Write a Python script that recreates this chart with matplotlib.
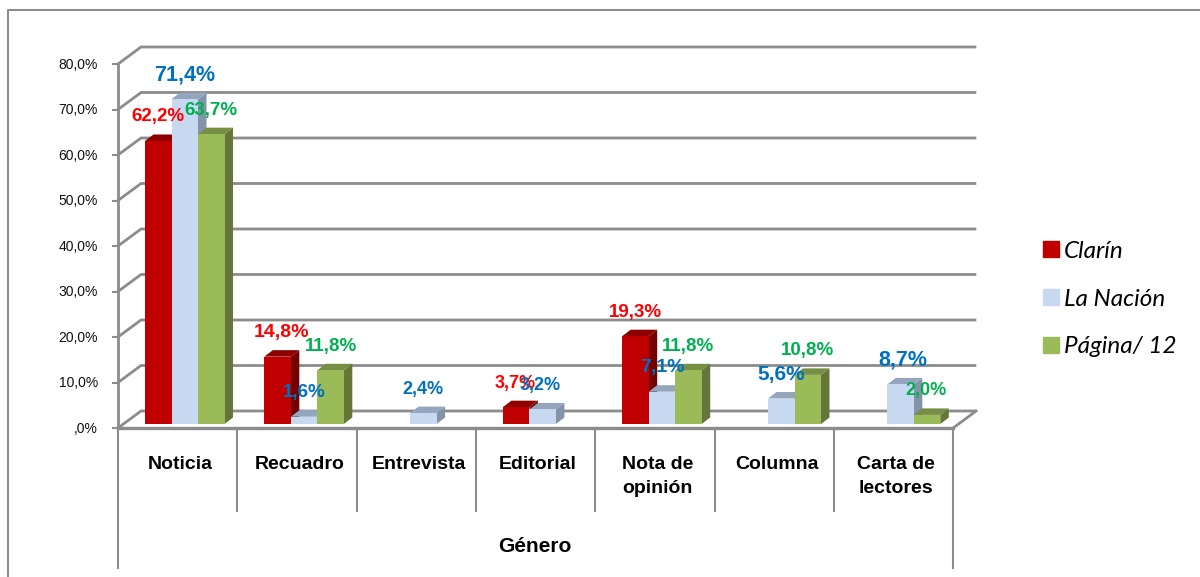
import numpy as np
import matplotlib.pyplot as plt
from matplotlib.patches import Polygon
from matplotlib.lines import Line2D

categories = ['Noticia', 'Recuadro', 'Entrevista', 'Editorial', 'Nota de\nopinión', 'Columna', 'Carta de\nlectores']
clarin = [62.2, 14.8, np.nan, 3.7, 19.3, np.nan, np.nan]
nacion = [71.4, 1.6, 2.4, 3.2, 7.1, 5.6, 8.7]
pagina = [63.7, 11.8, np.nan, np.nan, 11.8, 10.8, 2.0]
ticks = [0, 10, 20, 30, 40, 50, 60, 70, 80]
tick_labels = [',0%', '10,0%', '20,0%', '30,0%', '40,0%', '50,0%', '60,0%', '70,0%', '80,0%']
series_names = ['Clarín', 'La Nación', 'Página/ 12']

W, H = 1200, 577
PX_X = 119.3   # pixels per category
PX_Y = 4.55    # pixels per percent
X0, Y0 = 118, 428  # front corner of the floor
plt.rcParams['font.family'] = ['Liberation Sans', 'DejaVu Sans']

fig = plt.figure(figsize=(W / 100, H / 100), dpi=100)
ax = fig.add_axes([0, 0, 1, 1])
ax.set_xlim(-X0 / PX_X, (W - X0) / PX_X)
ax.set_ylim((Y0 - H) / PX_Y, Y0 / PX_Y)
ax.axis('off')

grid_c = '#8c8c8c'
dx_wall, dy_wall = 23 / PX_X, 17 / PX_Y
n = len(categories)
lw = 2.0

# back wall lines and the slanted side lines
for t in ticks:
    ax.plot([0, dx_wall, n + dx_wall - 0.01], [t, t + dy_wall, t + dy_wall], color=grid_c, lw=lw, solid_joinstyle='miter')
    ax.plot([-5 / PX_X, 0], [t, t], color=grid_c, lw=1.5)
    ax.text(-20 / PX_X, t - 0.2, tick_labels[t // 10], ha='right', va='center', fontsize=10, color='#111111')
ax.plot([n, n + dx_wall], [0, dy_wall], color=grid_c, lw=lw)
ax.plot([0, n], [0, 0], color=grid_c, lw=lw + 0.4)
ax.plot([0, 0], [80, 0], color=grid_c, lw=lw)

# category table below the floor
for i in range(n + 1):
    bottom = -140 / PX_Y if i in (0, n) else -83 / PX_Y
    ax.plot([i, i], [0, bottom], color=grid_c, lw=1.5)
for i, c in enumerate(categories):
    ax.text(i + 0.52, -28 / PX_Y, c, ha='center', va='top', fontsize=14, fontweight='bold', linespacing=1.55)
ax.text(n / 2 - 0.01, -119 / PX_Y, 'Género', ha='center', va='center', fontsize=15, fontweight='bold')

# 3d looking bars
bar_w = 26.5 / PX_X
x_start = 27 / PX_X
dx_bar, dy_bar = 8.5 / PX_X, 6.5 / PX_Y
base = 4 / PX_Y
fronts = ['#c00000', '#c6d9f1', '#9bbb59']
tops = ['#8e0000', '#93a6be', '#778f45']
sides = ['#760000', '#8493a8', '#647639']
label_c = ['#ff0000', '#0070c0', '#00b050']
label_dx = [[0, 4, 0, -1, 0, 0, 0], [0, 0, 0, -2, 0, 0, 2], [0, 0, 0, 0, 0, 0, -1]]
label_size = [[13.5, 14, 0, 13, 13.5, 0, 0], [15.5, 13.5, 13, 13, 14, 15, 15.5], [13.5, 13.5, 0, 0, 13.5, 13.5, 13]]

for s, vals in enumerate([clarin, nacion, pagina]):
    for i, v in enumerate(vals):
        if np.isnan(v):
            continue
        left = i + x_start + s * bar_w
        right = left + bar_w
        ax.add_patch(Polygon([(right, base), (right + dx_bar, base + dy_bar), (right + dx_bar, base + v + dy_bar), (right, base + v)],
                             fc=sides[s], ec='none', zorder=3 + s))
        ax.add_patch(Polygon([(left, base + v), (left + dx_bar, base + v + dy_bar), (right + dx_bar, base + v + dy_bar), (right, base + v)],
                             fc=tops[s], ec='none', zorder=3 + s))
        ax.bar(left, v, bar_w, bottom=base, align='edge', color=fronts[s], zorder=3 + s)
        ax.annotate(f'{v:.1f}%'.replace('.', ','), (left + bar_w / 2, base + v), xytext=(label_dx[s][i], 24),
                    textcoords='offset pixels', ha='center', va='center', fontsize=label_size[s][i], fontweight='bold',
                    color=label_c[s], zorder=10)

# outer frame, only left and top show
fig.add_artist(Line2D([8 / W, 8 / W, 1], [0, 1 - 10 / H, 1 - 10 / H], transform=fig.transFigure, color=grid_c, lw=1.5))

handles = [Line2D([], [], ls='none', marker='s', ms=11, color=c) for c in fronts]
leg = ax.legend(handles, series_names, loc='center left', bbox_to_anchor=(1040 / W, 1 - 299 / H), frameon=False,
                prop={'family': 'Lato', 'style': 'italic', 'size': 17.5}, labelspacing=1.09, handlelength=0.9,
                handletextpad=0.1, borderpad=0, borderaxespad=0)

fig.savefig('out.png', dpi=100)
